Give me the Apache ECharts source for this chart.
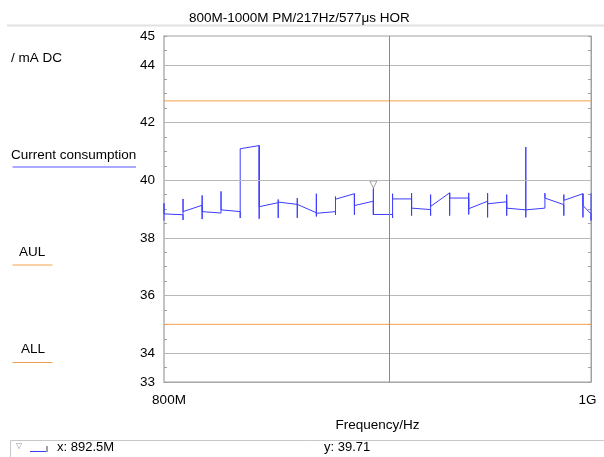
<!DOCTYPE html>
<html><head><meta charset="utf-8">
<script src="https://cdn.jsdelivr.net/npm/echarts@6/dist/echarts.min.js"></script>
<style>html,body{margin:0;padding:0;background:#fff}#c{width:604px;height:457px}</style>
</head><body><div id="c"></div>
<script>
// ---- data ----
const titleText = '800M-1000M PM/217Hz/577μs HOR';
const yUnitText = '/ mA DC';
const seriesName = 'Current consumption';
const aulName = 'AUL';
const allName = 'ALL';
// frequency steps (MHz), 1 % steps
const stepFreq = [800, 808, 816.1, 824.2, 832.5, 840.8, 849.2, 857.7, 866.3, 875.0, 883.7, 892.5,
                  901.5, 910.5, 919.6, 928.8, 938.1, 947.4, 956.9, 966.5, 976.2, 985.9, 995.8, 1000];
// spike extremes at each step (mA)
const spikeMax = [39.20, 39.35, 39.47, 39.61, 41.09, 41.20, 39.33, 39.38, 39.53, 39.43, 39.53, 39.71,
                  39.53, 39.55, 39.50, 39.56, 39.56, 39.55, 39.50, 41.15, 39.55, 39.50, 39.53, 39.55];
const spikeMin = [38.60, 38.62, 38.65, 38.85, 38.69, 38.66, 38.69, 38.69, 38.74, 38.80, 38.80, 38.80,
                  38.69, 38.77, 38.77, 38.77, 38.81, 38.71, 38.77, 38.71, 38.97, 38.77, 38.71, 38.60];
// dwell value at start and end of each step segment (mA)
const segStart = [38.83, 38.91, 38.91, 38.97, 41.09, 39.08, 39.24, 39.16, 38.85, 39.34, 39.12, 38.81,
                  39.35, 39.03, 39.09, 39.38, 39.01, 39.18, 39.03, 38.97, 39.38, 39.30, 39.12];
const segEnd   = [38.80, 39.13, 38.86, 38.91, 41.20, 39.22, 39.16, 38.87, 38.91, 39.53, 39.27, 38.81,
                  39.35, 38.98, 39.56, 39.38, 39.27, 39.25, 38.97, 39.03, 39.15, 39.53, 38.83];
const aulLevel = 42.75;
const allLevel = 35;
const yGridValues = [34, 36, 38, 40, 42, 44];
const yLabelValues = [33, 34, 36, 38, 40, 42, 44, 45];
const xGridValues = [900];
const xRange = [800, 1000];
const yRange = [33, 45];
const markerFreq = 892.5;
const markerValue = 39.71;
const statusX = 'x: 892.5M';
const statusY = 'y: 39.71';

// ---- build ----
const FONT = '"Liberation Sans", Arial, sans-serif';
const curve = [];
for (let k = 0; k < stepFreq.length; k++) {
  const f = stepFreq[k];
  if (k > 0) curve.push([f, segEnd[k - 1]]);
  curve.push([f, spikeMin[k]]);
  curve.push([f, spikeMax[k]]);
  if (k < segStart.length) curve.push([f, segStart[k]]);
}
const BLUE = '#3c3cff';
const ORANGE = '#f2a04e';

const chart = echarts.init(document.getElementById('c'), null, {renderer: 'canvas'});
const yAxisBase = {
  type: 'value', min: yRange[0], max: yRange[1], interval: 1,
  axisLine: {show: true, lineStyle: {color: '#c4c4c4', width: 2}},
  axisTick: {show: true, inside: true, length: 3, lineStyle: {color: '#a0a0a0'}},
  minorTick: {show: true, splitNumber: 2, length: 3, lineStyle: {color: '#a0a0a0'}},
  splitLine: {show: false}
};
chart.setOption({
  animation: false,
  title: {
    text: titleText, left: 184, top: 6,
    textStyle: {fontFamily: FONT, fontSize: 13.5, fontWeight: 'normal', color: '#000'}
  },
  grid: {left: 164, right: 13, top: 36, bottom: 75, show: true, borderColor: '#a0a0a0', borderWidth: 1, backgroundColor: 'transparent'},
  xAxis: {
    type: 'log', logBase: 10, min: xRange[0], max: xRange[1],
    axisLine: {show: true, lineStyle: {color: '#a8a8a8'}},
    axisTick: {show: false},
    splitLine: {show: false},
    axisLabel: {
      margin: 11,
      fontFamily: FONT, fontSize: 13.5, color: '#000',
      formatter: function (v) {
        const r = Math.round(v);
        if (r === 1000) return '{b|1G}';
        return '{a|' + r + 'M}';
      },
      rich: {
        a: {fontFamily: FONT, fontSize: 13.5, color: '#000', padding: [0, 0, 0, 10]},
        b: {fontFamily: FONT, fontSize: 13.5, color: '#000', padding: [0, 7, 0, 0]}
      }
    },
    name: 'Frequency/Hz', nameLocation: 'middle', nameGap: 36,
    nameTextStyle: {fontFamily: FONT, fontSize: 13.5, color: '#000'}
  },
  yAxis: [
    Object.assign({}, yAxisBase, {
      position: 'left',
      axisLabel: {
        margin: 9, fontFamily: FONT, fontSize: 13.5, color: '#000',
        formatter: function (v) { return yLabelValues.indexOf(Math.round(v)) >= 0 ? String(Math.round(v)) : ''; }
      }
    }),
    Object.assign({}, yAxisBase, {
      position: 'right', axisLabel: {show: false},
      axisLine: {show: true, lineStyle: {color: '#a0a0a0', width: 1}}
    })
  ],
  graphic: [
    {type: 'line', shape: {x1: 7, y1: 25.5, x2: 604, y2: 25.5}, style: {stroke: '#e2e2e2', lineWidth: 2}},
    {type: 'text', x: 11, y: 58, style: {text: yUnitText, font: '13.5px ' + FONT, fill: '#000', verticalAlign: 'middle'}},
    {type: 'text', x: 11, y: 155.5, style: {text: seriesName, font: '13.5px ' + FONT, fill: '#000', verticalAlign: 'middle'}},
    {type: 'line', shape: {x1: 12.5, y1: 167, x2: 136, y2: 167}, style: {stroke: '#8c8cff', lineWidth: 1.5}},
    {type: 'text', x: 19, y: 252, style: {text: aulName, font: '13.5px ' + FONT, fill: '#000', verticalAlign: 'middle'}},
    {type: 'line', shape: {x1: 12.5, y1: 265, x2: 52.5, y2: 265}, style: {stroke: ORANGE, lineWidth: 1}},
    {type: 'text', x: 21, y: 349.5, style: {text: allName, font: '13.5px ' + FONT, fill: '#000', verticalAlign: 'middle'}},
    {type: 'line', shape: {x1: 12.5, y1: 362.5, x2: 52.5, y2: 362.5}, style: {stroke: ORANGE, lineWidth: 1}},
    // status bar
    {type: 'polyline', shape: {points: [[10.5, 470], [10.5, 440.5], [604, 440.5]]}, style: {stroke: '#c8c8c8', lineWidth: 1, fill: null}},
    {type: 'text', x: 16, y: 446, style: {text: '▽', font: '8px "DejaVu Sans"', fill: '#999', verticalAlign: 'middle'}},
    {type: 'line', shape: {x1: 30, y1: 451.5, x2: 46, y2: 451.5}, style: {stroke: BLUE, lineWidth: 1}},
    {type: 'line', shape: {x1: 47, y1: 446, x2: 47, y2: 452}, style: {stroke: '#444', lineWidth: 1}},
    {type: 'text', x: 57, y: 447, style: {text: statusX, font: '13px ' + FONT, fill: '#000', verticalAlign: 'middle'}},
    {type: 'text', x: 324, y: 447, style: {text: statusY, font: '13px ' + FONT, fill: '#000', verticalAlign: 'middle'}}
  ],
  series: [
    {
      name: 'grid', type: 'line', data: [], silent: true, z: 1,
      markLine: {
        silent: true, symbol: ['none', 'none'], label: {show: false}, animation: false,
        lineStyle: {color: '#b8b8b8', type: 'solid', width: 1},
        data: yGridValues.map(v => ({yAxis: v})).concat(
          xGridValues.map(v => ({xAxis: v, lineStyle: {color: '#8a8a8a', type: 'solid', width: 1}})))
      }
    },
    {
      name: aulName, type: 'line', showSymbol: false, silent: true, z: 2,
      data: [[xRange[0], aulLevel], [xRange[1], aulLevel]],
      lineStyle: {color: ORANGE, width: 1}
    },
    {
      name: allName, type: 'line', showSymbol: false, silent: true, z: 2,
      data: [[xRange[0], allLevel], [xRange[1], allLevel]],
      lineStyle: {color: ORANGE, width: 1}
    },
    {
      name: seriesName, type: 'line', showSymbol: false, z: 3,
      data: curve, lineStyle: {color: BLUE, width: 1}
    },
    {
      name: 'marker', type: 'scatter', z: 4,
      data: [[markerFreq, markerValue]],
      symbol: 'triangle', symbolRotate: 180, symbolSize: [7, 7], symbolOffset: [0, -4],
      itemStyle: {color: '#fff', borderColor: '#888', borderWidth: 1}
    }
  ]
});
</script></body></html>
